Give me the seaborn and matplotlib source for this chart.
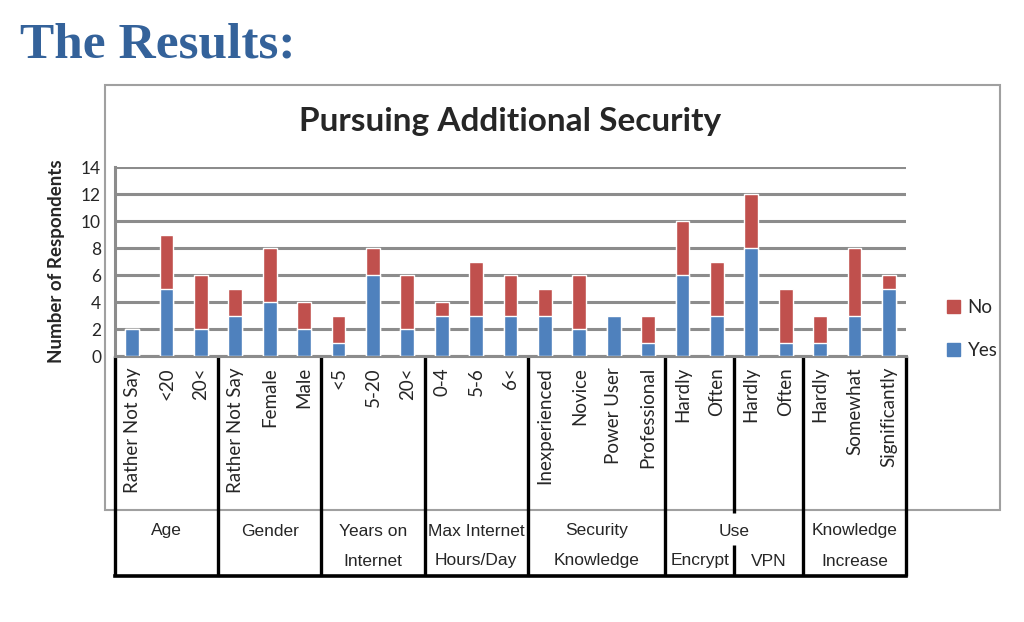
import pandas as pd
import seaborn as sns
import matplotlib.pyplot as plt
import matplotlib.transforms as mtransforms
from matplotlib.patches import Rectangle, Patch

# bar data (Yes at the bottom, No stacked on top)
groups = (["Age"] * 3 + ["Gender"] * 3 + ["Years"] * 3 + ["Hours"] * 3
          + ["Security"] * 4 + ["Encrypt"] * 2 + ["VPN"] * 2 + ["KnowInc"] * 3)
labels = ["Rather Not Say", "<20", "20<",
          "Rather Not Say", "Female", "Male",
          "<5", "5-20", "20<",
          "0-4", "5-6", "6<",
          "Inexperienced", "Novice", "Power User", "Professional",
          "Hardly", "Often",
          "Hardly", "Often",
          "Hardly", "Somewhat", "Significantly"]
yes = [2, 5, 2, 3, 4, 2, 1, 6, 2, 3, 3, 3, 3, 2, 3, 1, 6, 3, 8, 1, 1, 3, 5]
no = [0, 4, 4, 2, 4, 2, 2, 2, 4, 1, 4, 3, 2, 4, 0, 2, 4, 4, 4, 4, 2, 5, 1]

# category labels under the axis: (first line, second line, first bar, last bar)
group_text = [("Age", "", 0, 2),
              ("Gender", "", 3, 5),
              ("Years on", "Internet", 6, 8),
              ("Max Internet", "Hours/Day", 9, 11),
              ("Security", "Knowledge", 12, 15),
              ("Use", "", 16, 19),
              ("", "Encrypt", 16, 17),
              ("", "VPN", 18, 19),
              ("Knowledge", "Increase", 20, 22)]
full_seps = [-0.5, 2.5, 5.5, 8.5, 11.5, 15.5, 19.5, 22.5]
split_seps = [17.5]

df = pd.DataFrame({"key": [g + "|" + l for g, l in zip(groups, labels)],
                   "Yes": yes, "No": no})
df["Total"] = df["Yes"] + df["No"]

BLUE = "#4f81bd"
RED = "#c0504d"
GRID = "#8c8c8c"

sns.set_style("white")
plt.rcParams["font.family"] = ["Lato", "DejaVu Sans"]

W, H = 1024, 622
fig = plt.figure(figsize=(W / 100, H / 100), dpi=100)
ax = fig.add_axes([115 / W, 1 - 356 / H, (906 - 115) / W, (356 - 167) / H])

sns.barplot(data=df, x="key", y="Total", color=RED, width=0.4,
            saturation=1, ax=ax, zorder=3)
sns.barplot(data=df, x="key", y="Yes", color=BLUE, width=0.4,
            saturation=1, ax=ax, zorder=3)

ax.set_xlim(-0.5, len(df) - 0.5)
ax.set_ylim(0, 14)
ax.set_yticks(range(0, 15, 2))
ax.yaxis.grid(True, color=GRID, lw=2.2)
ax.set_axisbelow(True)
for s in ["top", "right"]:
    ax.spines[s].set_visible(False)
for s in ["left", "bottom"]:
    ax.spines[s].set_color(GRID)
    ax.spines[s].set_linewidth(2.2)

ax.set_xticks(range(len(df)))
ax.set_xticklabels(labels, rotation=90, fontsize=13.5, va="top")
ax.set_xticks([b - 0.5 for b in range(len(df) + 1)], minor=True)
ax.tick_params(axis="x", which="major", length=0, pad=8)
ax.tick_params(axis="x", which="minor", length=6, width=2, color=GRID)
ax.tick_params(axis="y", length=7, width=2.2, color=GRID, labelsize=12.5, pad=3)
ax.set_xlabel("")
ax.set_ylabel("Number of Respondents", fontsize=13.5, fontweight="bold")
ax.yaxis.set_label_coords(-0.063, 0.5)

# table-like category frame under the bars
tr = mtransforms.blended_transform_factory(ax.transData, fig.transFigure)
y_top, y_bot = 1 - 356 / H, 1 - 576 / H
for x in full_seps:
    ax.plot([x, x], [y_top, y_bot], color="black", lw=2.4, transform=tr,
            clip_on=False, solid_capstyle="butt")
for x in split_seps:
    ax.plot([x, x], [y_top, 1 - 513 / H], color="black", lw=2.4, transform=tr,
            clip_on=False, solid_capstyle="butt")
    ax.plot([x, x], [1 - 545 / H, y_bot], color="black", lw=2.4, transform=tr,
            clip_on=False, solid_capstyle="butt")
ax.plot([-0.5, len(df) - 0.5], [y_bot, y_bot], color="black", lw=2.6,
        transform=tr, clip_on=False, solid_capstyle="projecting")

narrow = ["Liberation Sans Narrow", "Liberation Sans", "DejaVu Sans"]
for l1, l2, a, b in group_text:
    xc = (a + b) / 2
    if l1:
        ax.text(xc, 1 - 531 / H, l1, transform=tr, ha="center", va="center",
                fontsize=12.5, family=narrow)
    if l2:
        ax.text(xc, 1 - 561 / H, l2, transform=tr, ha="center", va="center",
                fontsize=12.5, family=narrow)

# outer chart frame
fig.add_artist(Rectangle((105 / W, 1 - 510 / H), (1000 - 105) / W, (510 - 85) / H,
                         transform=fig.transFigure, fill=False,
                         edgecolor="#a0a0a0", lw=1.5, zorder=0))

handles = [Patch(color=RED, label="No"), Patch(color=BLUE, label="Yes")]
fig.legend(handles=handles, loc="center left",
           bbox_to_anchor=(930 / W, 1 - 329 / H), frameon=False,
           handlelength=0.7, handleheight=0.7, handletextpad=0.4,
           labelspacing=1.4, fontsize=13.5)

fig.text(510 / W, 1 - 122 / H, "Pursuing Additional Security", ha="center",
         va="center", fontsize=24, fontweight="bold")
fig.text(20 / W, 1 - 45 / H, "The Results:", ha="left", va="center",
         fontsize=37, fontweight="bold", color="#34629a",
         family=["Liberation Serif", "DejaVu Serif"])

fig.savefig("out.png", dpi=100)
